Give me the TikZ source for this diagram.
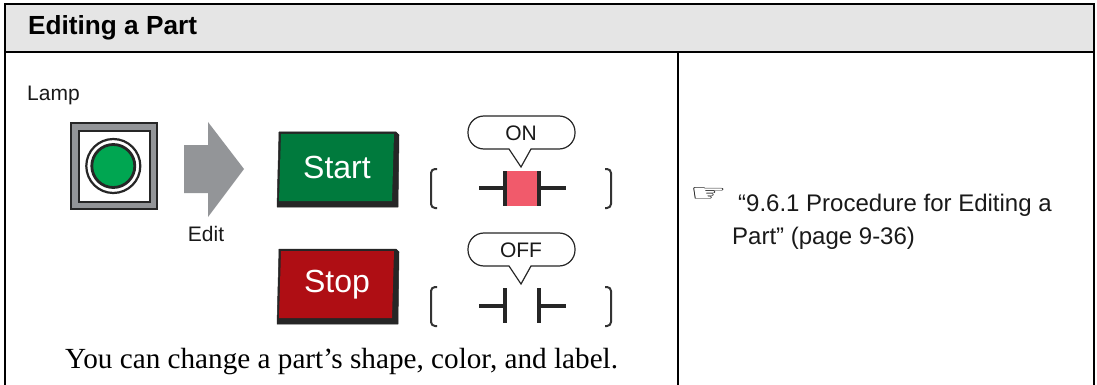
\documentclass[tikz,border=0pt]{standalone}
\usepackage{fontspec}
\setmainfont{Liberation Sans}
\newfontfamily\serifcap{Liberation Serif}
\newfontfamily\handfont{DejaVu Sans}
\tikzset{
  rule/.style = {line width=2pt, black},
  contact/.style = {line width=3.2pt, draw=black!85},
  bracket/.style = {line width=2pt, draw=black!80, rounded corners=4pt},
  callout/.style = {line width=1.2pt, draw=black!85, fill=white},
  btnshadow/.style = {fill=black!85, draw=black!85, line width=0.5pt, line join=round},
  btnlabel/.style = {white, font=\fontsize{32}{36}\selectfont},
  plain/.style = {inner sep=0pt, black!90, font=\fontsize{21}{24}\selectfont}
}
\definecolor{headgray}{HTML}{E5E5E5}
\definecolor{arrowgray}{HTML}{939598}
\definecolor{lampgreen}{HTML}{00A651}
\definecolor{startgreen}{HTML}{007A3D}
\definecolor{stopred}{HTML}{AF0E14}
\definecolor{onpink}{HTML}{F15A6B}
\begin{document}
\begin{tikzpicture}[x=1pt,y=-1pt]
  \useasboundingbox (0,0) rectangle (1097,385);
  % table frame
  \fill[headgray] (5,4) rectangle (1094,52);
  \draw[rule] (5,385) -- (5,4) -- (1094,4) -- (1094,385);
  \draw[rule] (5,52) -- (1094,52);
  \draw[rule] (678,52) -- (678,385);
  \node[anchor=base west,inner sep=0pt,font=\bfseries\fontsize{26.2}{30}\selectfont] (title) at (28,35) {Editing a Part};

  % lamp
  \node[plain,anchor=base west] (lamp) at (27,101) {Lamp};
  \draw[line width=2.6pt,draw=black!85,fill=arrowgray] (71,123) rectangle (157,209);
  \draw[line width=2.8pt,draw=black!85,fill=white] (79,131) rectangle (150,202);
  \draw[line width=2.2pt,draw=black!85,fill=white] (113.3,166) circle (27);
  \draw[line width=2.8pt,draw=black!85,fill=lampgreen] (113.3,166) circle (21.5);

  % edit arrow
  \fill[arrowgray] (184,145) -- (208,145) -- (208,122) -- (244,169) -- (208,217) -- (208,193) -- (184,193) -- cycle;
  \node[plain,anchor=base] (edit) at (206,241) {Edit};

  % start button
  \draw[btnshadow] (279,132) -- (396,132) -- (399,135) -- (398,207) -- (277,207) -- cycle;
  \fill[startgreen] (281,134) -- (394,134) -- (392,201) -- (279,201) -- cycle;
  \node[btnlabel] (start) at (337,167) {Start};

  % stop button
  \draw[btnshadow] (279,249) -- (396,249) -- (399,252) -- (398,324) -- (277,324) -- cycle;
  \fill[stopred] (281,251) -- (394,251) -- (392,318) -- (279,318) -- cycle;
  \node[btnlabel] (stop) at (337,285) {Stop};

  % on state
  \draw[bracket] (437,169) -- (431,169) -- (431,208) -- (437,208);
  \draw[bracket] (605,169) -- (611,169) -- (611,208) -- (605,208);
  \draw[callout] (521,167) -- (509,149) [rounded corners=16pt] -- (468,149) -- (468,116) -- (575,116) -- (575,149) [sharp corners] -- (531,149) -- cycle;
  \node[plain] (on) at (521,133) {ON};
  \fill[onpink] (505,171) rectangle (539,206);
  \draw[contact] (479,188) -- (505,188);
  \draw[contact] (539,188) -- (566,188);
  \draw[contact] (505,171) -- (505,206);
  \draw[contact] (539,171) -- (539,206);

  % off state
  \draw[bracket] (437,287) -- (431,287) -- (431,326) -- (437,326);
  \draw[bracket] (605,287) -- (611,287) -- (611,326) -- (605,326);
  \draw[callout] (521,284) -- (509,266) [rounded corners=16pt] -- (468,266) -- (468,233) -- (575,233) -- (575,266) [sharp corners] -- (531,266) -- cycle;
  \node[plain] (off) at (521,250) {OFF};
  \draw[contact] (479,306) -- (505,306);
  \draw[contact] (539,306) -- (566,306);
  \draw[contact] (505,288) -- (505,323);
  \draw[contact] (539,288) -- (539,323);

  % caption and reference
  \node[anchor=base west,inner sep=0pt,font=\serifcap\fontsize{29.2}{33}\selectfont] (caption) at (65,368) {You can change a part’s shape, color, and label.};
  \node[inner sep=0pt,font=\handfont\fontsize{36}{40}\selectfont] (hand) at (708.5,195) {\scalebox{1.15}[0.68]{☞}};
  \node[plain,anchor=base west,font=\fontsize{24}{33}\selectfont] (ref1) at (738,211) {“9.6.1 Procedure for Editing a};
  \node[plain,anchor=base west,font=\fontsize{24}{33}\selectfont] (ref2) at (732,244) {Part” (page 9-36)};
\end{tikzpicture}
\end{document}
